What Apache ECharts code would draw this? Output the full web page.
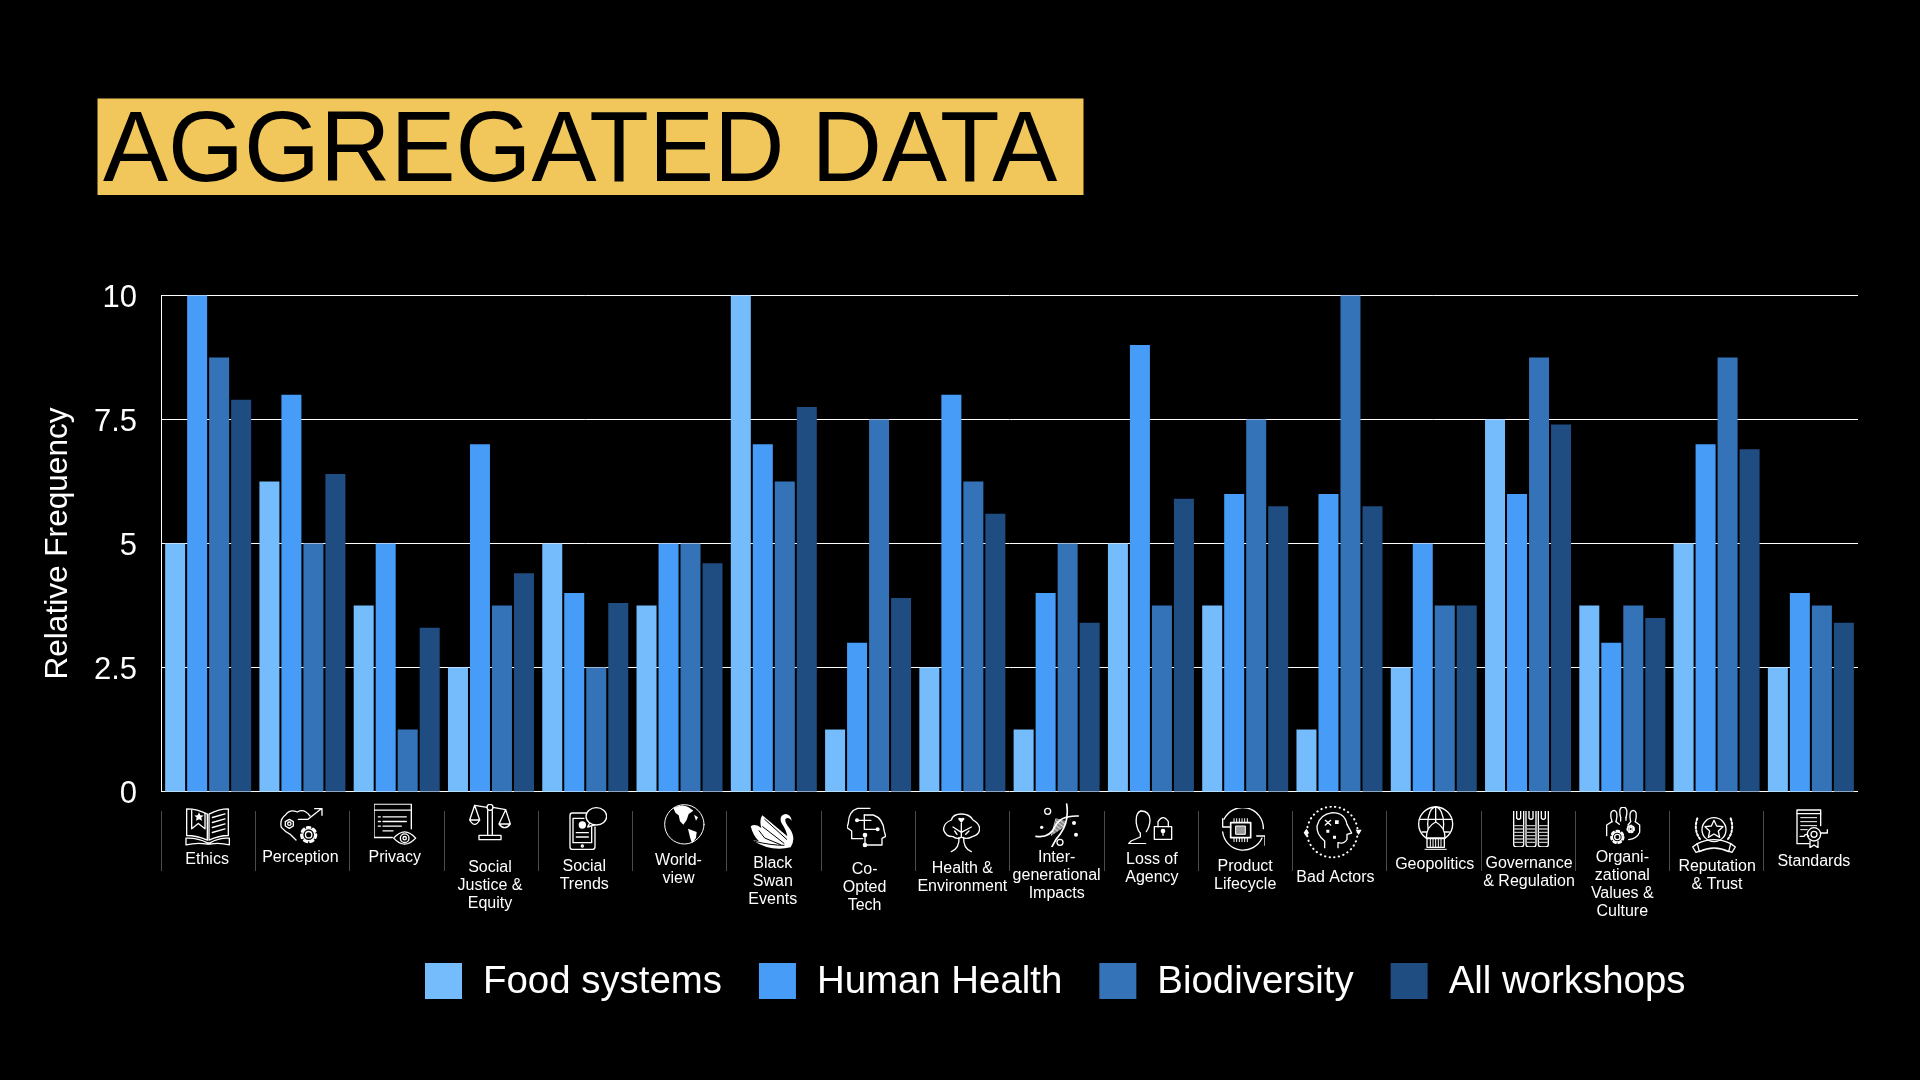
<!DOCTYPE html>
<html><head><meta charset="utf-8">
<style>html,body{margin:0;padding:0;background:#000}#c{width:1920px;height:1080px}</style>
<script src="https://cdn.jsdelivr.net/npm/echarts@6/dist/echarts.min.js"></script>
</head><body><div id="c"></div>
<script>
const categories = ["Ethics","Perception","Privacy","Social\nJustice &\nEquity","Social\nTrends","World-\nview","Black\nSwan\nEvents","Co-\nOpted\nTech","Health &\nEnvironment","Inter-\ngenerational\nImpacts","Loss of\nAgency","Product\nLifecycle","Bad Actors","Geopolitics","Governance\n& Regulation","Organi-\nzational\nValues &\nCulture","Reputation\n& Trust","Standards"];
const foodSystems = [5,6.25,3.75,2.5,5,3.75,10,1.25,2.5,1.25,5,3.75,1.25,2.5,7.5,3.75,5,2.5];
const humanHealth = [10,8,5,7,4,5,7,3,8,4,9,6,6,5,6,3,7,4];
const biodiversity = [8.75,5,1.25,3.75,2.5,5,6.25,7.5,6.25,5,3.75,7.5,10,3.75,8.75,3.75,8.75,3.75];
const allWorkshops = [7.9,6.4,3.3,4.4,3.8,4.6,7.75,3.9,5.6,3.4,5.9,5.75,5.75,3.75,7.4,3.5,6.9,3.4];
const seriesNames = ["Food systems","Human Health","Biodiversity","All workshops"];
const seriesColors = ["#74BCFC","#479CF8","#3473B7","#1F4D81"];

// layout of the category captions: y of the first line, x shift from the category centre
const captionFirstLineY = [859,857,857,866.7,865.7,860,862.7,868.7,868,856.7,858.7,866,876.7,864,863.3,857.3,866,860.7];
const captionShiftX = [-1,-2,-2,-1,-1,-1,-1,-3.5,0,0,1,0,-4,1,1,0,0.5,3];

function gear(cx,cy,r){
  return `<circle cx="${cx}" cy="${cy}" r="${r*0.4}"/><circle cx="${cx}" cy="${cy}" r="${r*0.75}"/><circle cx="${cx}" cy="${cy}" r="${r*0.92}" stroke-width="${r*0.32}" stroke-dasharray="${r*0.4} ${r*0.42}"/>`;
}
function chipPins(){let s='';for(let i=0;i<6;i++){s+=`M${72+i*8} 70V80M${72+i*8} 129V139`;}return s;}
function stripes(x,w){let s='';for(let y=92;y<150;y+=10){s+=`M${x} ${y}H${x+w}`;}return s;}
function hatch(){let s='';for(let i=0;i<9;i++){s+=`M${1084+i*4.5} ${122-i*3} L${1098+i*3.5} ${72+i*1}`;}return s;}

// icons: [pixel x, pixel y, pixel w, pixel h, viewBox x, viewBox y, svg body]
const icons = [
 [185,807.5,45,39,45,38,`<path d="M50 42Q82 42 112 58V136Q82 122 50 122Z"/><path d="M117 58Q147 42 175 42V122Q147 122 117 136Z"/><path d="M65 46V102L85 86L105 102V56"/><path d="M127 68L165 57M127 83L165 72M127 98L165 87M127 113L165 102"/><path d="M48 130Q82 128 112 144H120Q147 128 178 130V150Q147 142 120 148H112Q82 142 48 150Z"/><path fill="#fff" stroke="none" d="M87 52l4 9 10 1-7 6 2 10-9-5-9 5 2-10-7-6 10-1z"/>`],
 [280,807,43,39,330,35,`<path d="M420 62Q402 38 382 50Q360 40 347 58Q328 72 334 96Q346 110 362 118L378 134"/><path d="M385 72H414L452 42M434 40H456V60"/><path d="M358 72l12 7v13l-12 7-12-7V79z"/><circle cx="358" cy="85" r="5"/>${gear(416,118,24)}`],
 [374,803.5,43,43,613,26,`<path d="M613 28H725V46H613ZM613 46V128H668M725 46V102"/><path d="M640 66H710M640 80H710M640 94H695M640 108H670M626 66H632M626 80H632M626 94H632"/><path d="M672 130Q705 92 738 130Q705 166 672 130Z"/><circle cx="705" cy="130" r="13"/><circle cx="705" cy="130" r="5"/>`],
 [469,804,43,38,898,28,`<path d="M954 48V122M968 48V122M928 122H994V135H928Z"/><circle cx="961" cy="38" r="9"/><path d="M915 32L952 38M970 38L1008 45"/><path d="M915 32L900 76H930ZM900 76Q915 102 930 76"/><path d="M1008 45L988 88H1022ZM988 88Q1005 110 1022 88"/>`],
 [569,807,38,45,1200,38,`<path d="M1252 56H1210Q1203 56 1203 64V157Q1203 165 1210 165H1270Q1278 165 1278 157V98"/><path d="M1212 72H1245M1212 72V145H1268V98"/><ellipse cx="1282" cy="66" rx="31" ry="26"/><path d="M1262 86L1256 98L1276 92"/><circle cx="1240" cy="92" r="9" fill="#fff"/><path d="M1222 115H1258M1222 128H1258"/><circle cx="1240" cy="155" r="3"/>`],
 [664,804,41,41,0,0,`<circle cx="61" cy="61" r="59" stroke-width="3"/><path fill="#fff" stroke="none" d="M28 12Q55-2 74 10L88 20L74 30L68 48L58 62L48 52L44 34L34 26Z"/><path fill="#fff" stroke="none" d="M72 74L98 84L96 102L84 118L78 100Z"/><path fill="#fff" stroke="none" d="M90 32L102 40L96 50Z"/>`],
 [750,813,45,38,178,55,`<path fill="#fff" stroke="none" d="M284 58Q264 62 272 84Q288 108 290 125L215 62Q205 75 212 100Q195 85 180 95Q188 125 205 140Q195 137 188 138Q240 172 300 158Q318 130 296 100Q280 80 285 72Q295 66 303 78Q300 58 284 58Z"/><path stroke="#000" stroke-width="3" d="M222 74L288 134M216 96L280 146M205 108L222 130L270 150M192 140Q240 152 280 152"/>`],
 [847,807,39,41,473,38,`<path d="M542 42H505Q478 50 477 86L473 100L487 110V133H520"/><path d="M525 62H552Q582 72 585 112L589 126L578 132V152H530"/><path d="M503 78H545M525 62V105H562M527 122V152"/><circle cx="503" cy="78" r="4" fill="#fff"/><circle cx="527" cy="122" r="5" fill="#fff"/><circle cx="527" cy="152" r="5" fill="#fff"/><circle cx="565" cy="105" r="4" fill="#fff"/>`],
 [943,813,37,40,760,54,`<path d="M815 57Q790 57 785 75Q760 85 762 105Q768 125 790 125Q805 135 815 126Q830 135 848 125Q870 120 870 100Q868 85 850 75Q840 57 815 57Z"/><path d="M808 127Q810 160 785 170M822 127Q820 160 845 170"/><path d="M815 125V85M815 112L790 96M815 112L845 96M802 118L795 108M828 118L838 108"/><path fill="#fff" stroke="none" d="M815 84L805 72Q808 65 815 70Q822 65 825 72Z"/>`],
 [1035,803,45,44,1035,25,`<circle cx="1073" cy="50" r="9"/><circle cx="1110" cy="143" r="9"/><circle cx="1152" cy="85" r="6" fill="#fff" stroke="none"/><circle cx="1158" cy="120" r="6" fill="#fff" stroke="none"/><circle cx="1055" cy="98" r="5" fill="#fff" stroke="none"/><path stroke-width="5" d="M1038 125Q1078 132 1095 96Q1110 62 1165 64"/><path stroke-width="5" d="M1130 28Q1138 80 1112 116Q1095 135 1086 156"/><path stroke-width="2.5" d="${hatch()}"/>`],
 [1128,810,45,34,1313,45,`<path d="M1352 48Q1335 52 1338 85Q1342 108 1350 114V126L1322 138L1315 146H1366"/><path d="M1352 48Q1378 48 1379 76Q1378 96 1368 110"/><rect x="1392" y="95" width="52" height="38"/><path d="M1403 95V80Q1418 56 1434 80V95"/><circle cx="1418" cy="108" r="5" fill="#fff"/><path d="M1418 110V121"/>`],
 [1221,808,44,43,33,38,`<path d="M42 72A62 62 0 0 1 160 100"/><path d="M38 70V95H62M156 128A62 62 0 0 1 38 110"/><path d="M140 122H165V150"/><rect x="62" y="82" width="60" height="45" stroke-width="5"/><rect x="78" y="92" width="28" height="25" fill="#999" stroke-width="3"/><path stroke-width="3" d="${chipPins()}"/>`],
 [1303,806,59,54,280,35,`<circle cx="368" cy="113" r="76" stroke-width="6" stroke-dasharray="1 13" stroke-linecap="round"/><path d="M345 160V140Q320 120 322 95Q330 60 368 55Q405 55 412 90L426 116L412 120V135Q405 150 385 145V160"/><path d="M347 78L363 92M363 78L347 92"/><path fill="#fff" stroke="none" d="M376 78h11v11h-11zM350 106h9v9h-9zM370 124h9v9h-9z"/><path fill="#fff" stroke="none" d="M290 103l8 12-8 12-8-12zM438 106h18l-9 16z"/>`],
 [1417,806,37,44,620,30,`<circle cx="676" cy="84" r="51"/><ellipse cx="676" cy="84" rx="24" ry="51"/><path d="M676 33V70M627 70H725M635 108H650M702 108H717"/><path d="M676 78Q648 92 648 126H704Q704 92 676 78Z" fill="#000"/><path d="M676 70V78"/><rect x="650" y="128" width="52" height="26" fill="#000"/><path stroke-width="3" d="M660 128V154M668 128V154M676 128V154M684 128V154M692 128V154M644 160H708"/>`],
 [1513,811,36,36,908,48,`<path d="M910 48V148Q910 156 918 156H932Q940 156 940 148V48M947 48V148Q947 156 955 156H969Q977 156 977 148V48M984 48V148Q984 156 992 156H1006Q1014 156 1014 148V48"/><path d="M919 48V70Q925 76 931 70V48M956 48V70Q962 76 968 70V48M993 48V70Q999 76 1005 70V48"/><path stroke="#bbb" stroke-width="4" d="${stripes(912,26)}${stripes(949,26)}${stripes(986,26)}"/>`],
 [1606,807,36,39,1188,38,`<path d="M1206 82Q1196 50 1212 48Q1226 50 1218 82"/><path d="M1232 70Q1224 38 1240 38Q1256 40 1248 70"/><path d="M1262 82Q1255 50 1270 48Q1284 50 1276 82"/><path d="M1206 82L1190 92V124M1218 82L1228 90M1232 70V80M1248 70V78M1262 82L1254 92M1276 82L1289 92V114Q1280 134 1256 136"/>${gear(1222,128,20)}${gear(1262,104,12)}`],
 [1692,815,44,38,1446,60,`<circle cx="1512" cy="104" r="36"/><path d="M1512 76l8 17 19 2-14 13 4 19-17-10-17 10 4-19-14-13 19-2z"/><path stroke-width="6" stroke-dasharray="6 6" d="M1462 70Q1450 105 1470 132M1562 70Q1574 105 1554 132"/><path d="M1462 146Q1512 122 1562 146L1556 170Q1512 148 1468 170Z"/><path d="M1462 146L1448 156L1458 172L1470 168M1562 146L1576 156L1566 172L1554 168"/>`],
 [1796,809,33,39,0,0,`<path d="M40 104H3V3H74V50"/><path d="M3 14H74"/><path stroke-width="3" d="M14 26H62M14 38H62M14 50H62M14 62H34"/><path d="M12 82H24Q30 70 38 82"/><circle cx="54" cy="76" r="20"/><circle cx="54" cy="76" r="9"/><path d="M42 96V116L54 108L66 116V96"/><path d="M74 72H94V62"/>`]
];
function iconImage(ic){
  const svg = `<svg xmlns="http://www.w3.org/2000/svg" width="${ic[2]*2}" height="${ic[3]*2}" viewBox="${ic[4]} ${ic[5]} ${ic[2]*3} ${ic[3]*3}" fill="none" stroke="#fff" stroke-width="4" stroke-linejoin="round" stroke-linecap="round">${ic[6]}</svg>`;
  return 'data:image/svg+xml;charset=utf-8,'+encodeURIComponent(svg);
}

const labelTop = 845.5;
const xData = categories.map((c,i)=>{
  const s = captionShiftX[i];
  return {value:c,textStyle:{padding:[Math.max(0,captionFirstLineY[i]-9-labelTop),s<0?-2*s:0,0,s>0?2*s:0]}};
});
const seriesValues = [foodSystems,humanHealth,biodiversity,allWorkshops];
const sans = '"Liberation Sans",Arial,sans-serif';

const chart = echarts.init(document.getElementById('c'),null,{renderer:'canvas'});
chart.setOption({
  backgroundColor:'#000',
  animation:false,
  textStyle:{fontFamily:sans},
  grid:{left:161,right:62,top:295.5,bottom:288.5,containLabel:false},
  legend:{
    data:seriesNames,left:420,top:958,icon:'rect',itemWidth:37,itemHeight:36,itemGap:37,
    formatter:'{a|{name}}',
    textStyle:{color:'#fff',fontSize:38.4,fontFamily:sans,rich:{a:{color:'#fff',fontSize:38.4,fontFamily:sans,padding:[2,0,0,16]}}},
    selectedMode:false
  },
  xAxis:{
    type:'category',data:xData,position:'bottom',offset:19.5,
    axisLine:{show:false,onZero:false},
    axisTick:{show:true,length:60,alignWithLabel:false,lineStyle:{color:'#4a4a4a',width:1}},
    axisLabel:{show:true,interval:0,margin:35,color:'#fff',fontSize:16,lineHeight:18,verticalAlign:'top',hideOverlap:false,fontFamily:sans}
  },
  yAxis:{
    type:'value',min:0,max:10,interval:2.5,
    name:'Relative Frequency',nameLocation:'middle',nameGap:87,
    nameTextStyle:{color:'#fff',fontSize:31.6,fontFamily:sans},
    axisLine:{show:true,lineStyle:{color:'#fff',width:1}},
    axisTick:{show:false},
    axisLabel:{color:'#fff',fontSize:31,margin:24,verticalAlign:'top',lineHeight:31,padding:[-13,0,0,0],fontFamily:sans},
    splitLine:{show:true,lineStyle:{color:'#fff',width:1}}
  },
  series:seriesNames.map((n,i)=>({
    name:n,type:'bar',data:seriesValues[i],barWidth:20,barGap:'10%',
    itemStyle:{color:seriesColors[i]}
  })),
  graphic:[
    {type:'rect',silent:true,z:1,shape:{x:97.5,y:98.5,width:986,height:96.5},style:{fill:'#F1C75B'}},
    {type:'text',silent:true,z:2,x:103,y:153,scaleX:0.976,style:{text:'AGGREGATED DATA',fill:'#000',font:'100px "Liberation Sans",Arial,sans-serif',verticalAlign:'middle'}},
    // the source has no divider after the last category
    {type:'rect',silent:true,z:3,shape:{x:1856,y:806,width:6,height:70},style:{fill:'#000'}}
  ].concat(icons.map(ic=>({type:'image',silent:true,style:{image:iconImage(ic),x:ic[0],y:ic[1],width:ic[2],height:ic[3]}})))
});
</script></body></html>
